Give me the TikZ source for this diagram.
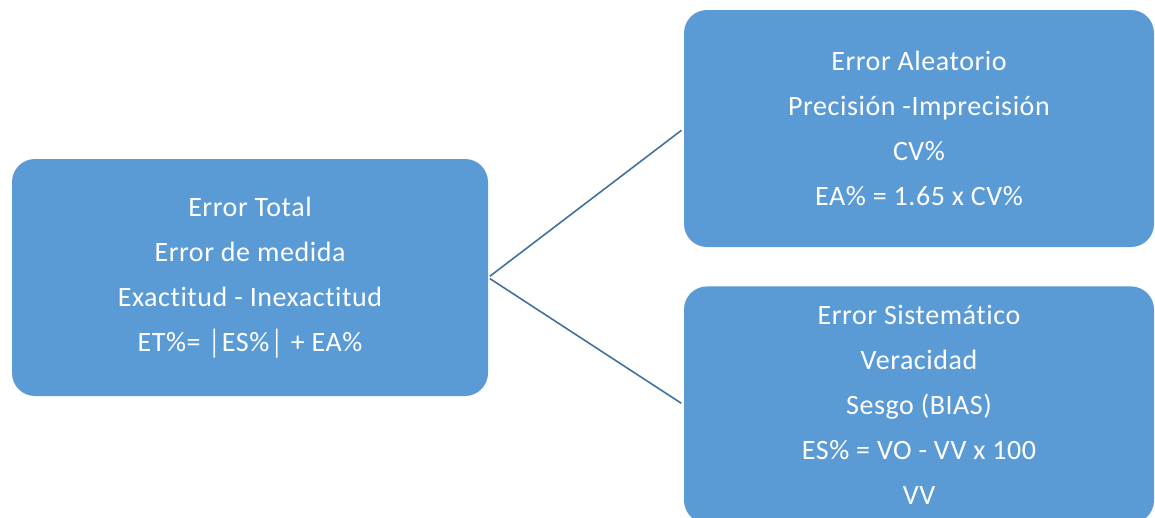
\documentclass[tikz,border=0pt]{standalone}
\usepackage{fontspec}
\setmainfont{Carlito}[Ligatures = NoCommon, LetterSpace = 2]
\usepackage{tikz}
\usetikzlibrary{positioning}
\definecolor{cajaazul}{HTML}{5B9BD5}
\definecolor{lineaazul}{HTML}{41719C}
\tikzset{
  caja/.style = {fill = cajaazul, rounded corners = 23pt, text = white,
    align = center, minimum width = 476pt, minimum height = 237pt,
    font = \fontsize{28}{45}\selectfont},
  rama/.style = {draw = lineaazul, line width = 1.6pt, shorten <= 2pt, shorten >= 3pt},
  node distance = 39pt,
}

\begin{document}
\begin{tikzpicture}[x = 1pt, y = -1pt]
    \useasboundingbox (0,0) rectangle (1155,517);
    \clip (0,0) rectangle (1155,517);
    \node [caja] (total) at (250,277.5) {Error Total\\Error de medida\\Exactitud - Inexactitud\\ET\%= │ES\%│ + EA\%};
    \node [caja, minimum width = 470pt] (aleatorio) at (919,128.5) {Error Aleatorio\\Precisión -Imprecisión\\CV\%\\EA\% = 1.65 x CV\%};
    \node [caja, minimum width = 470pt, below = of aleatorio] (sistematico) {Error Sistemático\\Veracidad\\Sesgo (BIAS)\\ES\% = VO - VV x 100\\VV};
    \draw [rama] (total.east) -- (aleatorio.west);
    \draw [rama] (total.east) -- (sistematico.west);
  \end{tikzpicture}
\end{document}
